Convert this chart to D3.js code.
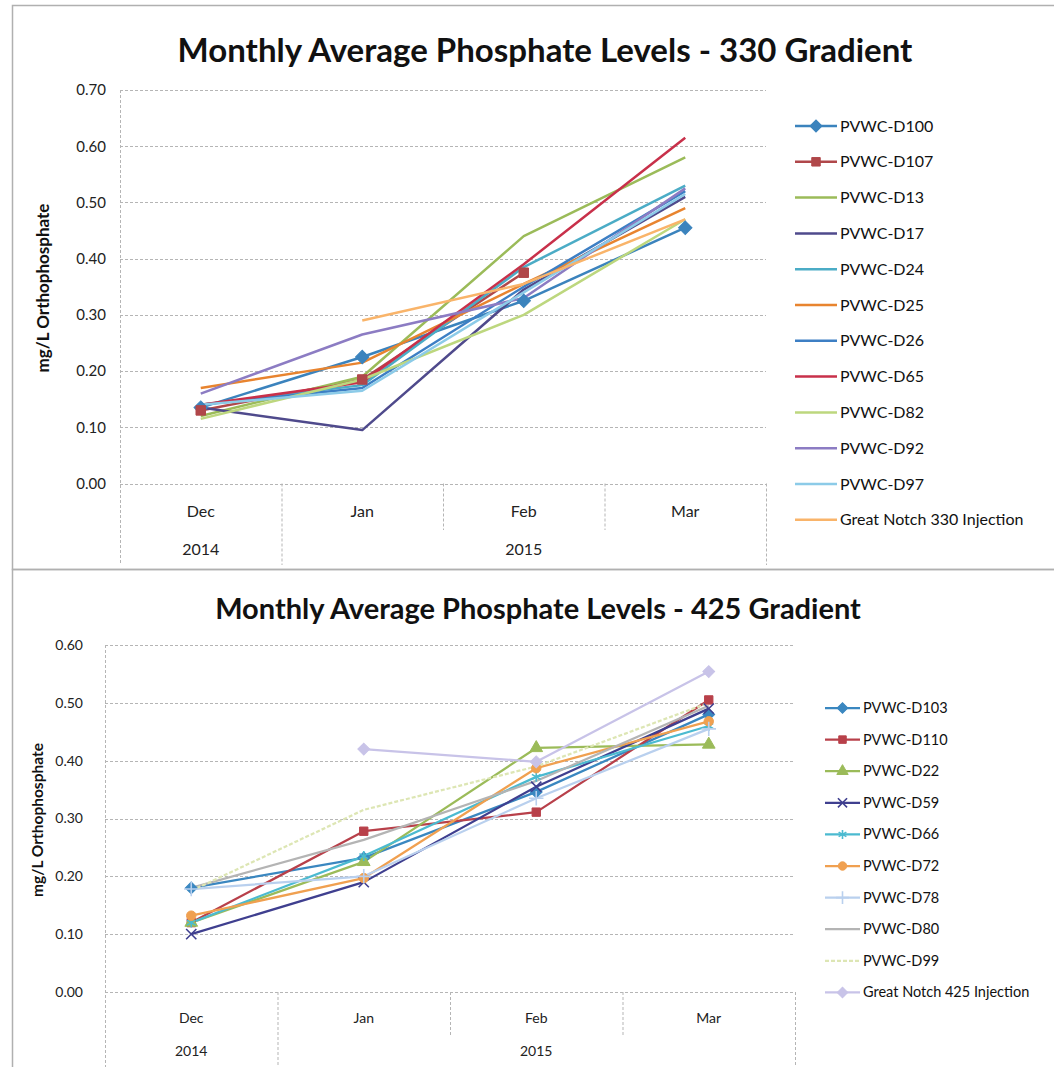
<!DOCTYPE html>
<html>
<head>
<meta charset="utf-8">
<script src="https://cdn.jsdelivr.net/npm/d3@7"></script>
<style>
  html, body { margin: 0; padding: 0; background: #fff; }
  svg { display: block; font-family: Lato, "Open Sans", sans-serif; }
</style>
</head>
<body>
<div id="canvas"></div>
<script>
// ---- shared categories ----
const months = ["Dec", "Jan", "Feb", "Mar"];
const yearLabels = ["2014", "2015"];
const yearStart = [0, 1];   // first month index of each year
const yearEnd = [1, 4];     // one past last month index

// ---- 330 gradient ----
const names330 = ["PVWC-D100", "PVWC-D107", "PVWC-D13", "PVWC-D17", "PVWC-D24", "PVWC-D25",
  "PVWC-D26", "PVWC-D65", "PVWC-D82", "PVWC-D92", "PVWC-D97", "Great Notch 330 Injection"];
const values330 = [
  [0.135, 0.225, 0.325, 0.455],
  [0.130, 0.185, 0.375, null],
  [0.120, 0.190, 0.440, 0.580],
  [0.135, 0.095, 0.345, 0.510],
  [0.140, 0.175, 0.385, 0.530],
  [0.170, 0.215, 0.355, 0.490],
  [0.140, 0.170, 0.350, 0.520],
  [0.140, 0.180, 0.390, 0.615],
  [0.115, 0.185, 0.300, 0.470],
  [0.160, 0.265, 0.330, 0.525],
  [0.140, 0.165, 0.340, 0.515],
  [null, 0.290, 0.355, 0.470]
];
const colors330 = ["#3b83bd", "#b0474a", "#9bbb59", "#4f4a8c", "#4bacc6", "#e8842f",
  "#3d7fc4", "#c8304a", "#bdd77e", "#8c7cc3", "#8ccbe8", "#f9b46a"];
const markers330 = ["diamond", "square", null, null, null, null, null, null, null, null, null, null];
const ticks330 = [0, 0.1, 0.2, 0.3, 0.4, 0.5, 0.6, 0.7];

// ---- 425 gradient ----
const names425 = ["PVWC-D103", "PVWC-D110", "PVWC-D22", "PVWC-D59", "PVWC-D66", "PVWC-D72",
  "PVWC-D78", "PVWC-D80", "PVWC-D99", "Great Notch 425 Injection"];
const values425 = [
  [0.180, 0.232, 0.346, 0.480],
  [0.120, 0.278, 0.311, 0.505],
  [0.120, 0.225, 0.422, 0.428],
  [0.100, 0.190, 0.355, 0.490],
  [0.120, 0.235, 0.372, 0.460],
  [0.132, 0.197, 0.387, 0.468],
  [0.178, 0.200, 0.335, 0.455],
  [0.180, 0.263, 0.365, 0.495],
  [0.175, 0.315, 0.390, 0.500],
  [null, 0.420, 0.398, 0.554]
];
const colors425 = ["#3a87c0", "#b8404a", "#9bbb59", "#3f3f8f", "#4bbad0", "#f0a050",
  "#b9d0ee", "#b4b4b4", "#dde6b4", "#c8c3e8"];
const markers425 = ["diamond", "square", "triangle", "x", "star", "circle", "plus", null, null, "diamond"];
const ticks425 = [0, 0.1, 0.2, 0.3, 0.4, 0.5, 0.6];

const W = 1054, H = 1067;

const svg = d3.select('#canvas')
  .append('svg')
  .attr('width', W)
  .attr('height', H);

// chart frames
svg.append('rect')
  .attr('x', 12.5).attr('y', 5.5).attr('width', W).attr('height', 564)
  .attr('fill', 'none').attr('stroke', '#b0b0b0').attr('stroke-width', 1.5);
svg.append('rect')
  .attr('x', 12.5).attr('y', 569.5).attr('width', W).attr('height', 520)
  .attr('fill', 'none').attr('stroke', '#b0b0b0').attr('stroke-width', 1.5);

function markerPath(type, size) {
  if (type === 'diamond') return d3.symbol(d3.symbolSquare, size)();
  if (type === 'square') return d3.symbol(d3.symbolSquare, size)();
  if (type === 'triangle') return d3.symbol(d3.symbolTriangle, size)();
  if (type === 'x') return d3.symbol(d3.symbolX, size)();
  if (type === 'star') return d3.symbol(d3.symbolAsterisk, size)();
  if (type === 'plus') return d3.symbol(d3.symbolPlus, size)();
  return d3.symbol(d3.symbolCircle, size)();
}

function drawMarker(g, type, color, x, y, size) {
  const stroked = (type === 'x' || type === 'star' || type === 'plus');
  g.append('path')
    .attr('d', markerPath(type, size))
    .attr('transform', `translate(${x},${y})` + (type === 'diamond' ? ' rotate(45)' : ''))
    .attr('fill', stroked ? 'none' : color)
    .attr('stroke', color)
    .attr('stroke-width', stroked ? 1.6 : 1);
}

function drawChart(o) {
  const g = svg.append('g');

  // title
  g.append('text')
    .attr('x', o.titleX).attr('y', o.titleY)
    .attr('text-anchor', 'middle')
    .style('font-size', o.titleSize + 'px')
    .style('font-weight', 'bold')
    .attr('fill', '#111')
    .text(o.title);

  const x = d3.scaleBand().domain(months).range([o.left, o.right]);
  const y = d3.scaleLinear().domain([0, o.max]).range([o.bottom, o.top]);

  // gridlines
  g.append('g').selectAll('line')
    .data(o.ticks)
    .join('line')
    .attr('x1', o.left).attr('x2', o.right)
    .attr('y1', d => Math.round(y(d)) + 0.5).attr('y2', d => Math.round(y(d)) + 0.5)
    .attr('stroke', '#b5b5b5')
    .attr('stroke-dasharray', '3,2');

  // y axis (labels only, Excel style)
  const yAxis = d3.axisLeft(y).tickValues(o.ticks).tickFormat(d3.format('.2f')).tickSize(0).tickPadding(0);
  const ya = g.append('g')
    .attr('transform', `translate(${o.yLabelX},0)`)
    .call(yAxis);
  ya.select('.domain').remove();
  ya.selectAll('text')
    .style('font-family', 'Lato, sans-serif')
    .style('font-size', o.tickSize + 'px')
    .attr('fill', '#222');

  // left vertical axis line
  g.append('line')
    .attr('x1', o.left + 0.5).attr('x2', o.left + 0.5)
    .attr('y1', o.top).attr('y2', o.catBottom)
    .attr('stroke', '#b5b5b5').attr('stroke-dasharray', '3,2');

  // category separators: month level and year level
  const bounds = d3.range(months.length + 1).map(i => i < months.length ? x(months[i]) : o.right);
  bounds.slice(1).forEach((bx, i) => {
    const isYear = yearEnd.includes(i + 1);
    g.append('line')
      .attr('x1', bx + 0.5).attr('x2', bx + 0.5)
      .attr('y1', o.bottom).attr('y2', isYear ? o.catBottom : o.monthBottom)
      .attr('stroke', '#b5b5b5').attr('stroke-dasharray', '3,2');
  });

  // month labels
  g.append('g').selectAll('text')
    .data(months)
    .join('text')
    .attr('x', d => x(d) + x.bandwidth() / 2)
    .attr('y', o.monthY)
    .attr('text-anchor', 'middle')
    .style('font-size', o.catSize + 'px')
    .attr('fill', '#222')
    .text(d => d);

  // year labels
  g.append('g').selectAll('text')
    .data(yearLabels)
    .join('text')
    .attr('x', (d, i) => (bounds[yearStart[i]] + bounds[yearEnd[i]]) / 2)
    .attr('y', o.yearY)
    .attr('text-anchor', 'middle')
    .style('font-size', o.catSize + 'px')
    .attr('fill', '#222')
    .text(d => d);

  // y axis title
  g.append('text')
    .attr('transform', `translate(${o.yTitleX},${o.yTitleY}) rotate(-90)`)
    .attr('text-anchor', 'middle')
    .style('font-size', o.yTitleSize + 'px')
    .style('font-weight', 'bold')
    .attr('fill', '#111')
    .text('mg/L Orthophosphate');

  // series lines
  const line = d3.line()
    .defined(d => d != null)
    .x((d, i) => x(months[i]) + x.bandwidth() / 2)
    .y(d => y(d));

  o.values.forEach((vals, s) => {
    g.append('path')
      .datum(vals)
      .attr('fill', 'none')
      .attr('stroke', o.colors[s])
      .attr('stroke-width', o.lineWidth)
      .attr('stroke-linejoin', 'round')
      .attr('stroke-dasharray', o.dashed && o.dashed[s] ? o.dashed[s] : null)
      .attr('d', line);
  });

  // markers on top
  o.values.forEach((vals, s) => {
    const m = o.markers[s];
    if (!m) return;
    vals.forEach((v, i) => {
      if (v == null) return;
      drawMarker(g, m, o.colors[s], x(months[i]) + x.bandwidth() / 2, y(v), o.markerSize);
    });
  });

  // legend
  const lg = g.append('g');
  o.names.forEach((name, s) => {
    const ly = o.legendY + s * o.legendStep;
    lg.append('line')
      .attr('x1', o.legendX0).attr('x2', o.legendX1)
      .attr('y1', ly).attr('y2', ly)
      .attr('stroke', o.colors[s])
      .attr('stroke-width', o.lineWidth)
      .attr('stroke-dasharray', o.dashed && o.dashed[s] ? o.dashed[s] : null);
    if (o.markers[s]) {
      drawMarker(lg, o.markers[s], o.colors[s], (o.legendX0 + o.legendX1) / 2, ly, o.markerSize * 0.8);
    }
    lg.append('text')
      .attr('x', o.legendX1 + 3).attr('y', ly)
      .attr('dy', '0.35em')
      .style('font-size', o.legendSize + 'px')
      .attr('fill', '#111')
      .text(name);
  });
}

drawChart({
  title: 'Monthly Average Phosphate Levels - 330 Gradient',
  titleX: 545, titleY: 62, titleSize: 33,
  left: 120, right: 766, top: 90, bottom: 483.5, max: 0.7,
  ticks: ticks330, yLabelX: 106, tickSize: 15, catSize: 16,
  monthY: 517, yearY: 555, monthBottom: 530, catBottom: 565,
  yTitleX: 49, yTitleY: 288, yTitleSize: 17,
  values: values330, colors: colors330, markers: markers330, names: names330,
  lineWidth: 2.5, markerSize: 90,
  legendX0: 795, legendX1: 837, legendY: 126, legendStep: 35.8, legendSize: 16
});

drawChart({
  title: 'Monthly Average Phosphate Levels - 425 Gradient',
  titleX: 538, titleY: 619, titleSize: 29,
  left: 105, right: 795, top: 645, bottom: 992, max: 0.6,
  ticks: ticks425, yLabelX: 83, tickSize: 14, catSize: 14,
  monthY: 1023, yearY: 1056, monthBottom: 1037, catBottom: 1067,
  yTitleX: 43, yTitleY: 820, yTitleSize: 15.5,
  values: values425, colors: colors425, markers: markers425, names: names425,
  dashed: [null, null, null, null, null, null, null, null, '4,2', null],
  lineWidth: 2.25, markerSize: 70,
  legendX0: 825, legendX1: 860, legendY: 708, legendStep: 31.6, legendSize: 14.5
});
</script>
</body>
</html>
